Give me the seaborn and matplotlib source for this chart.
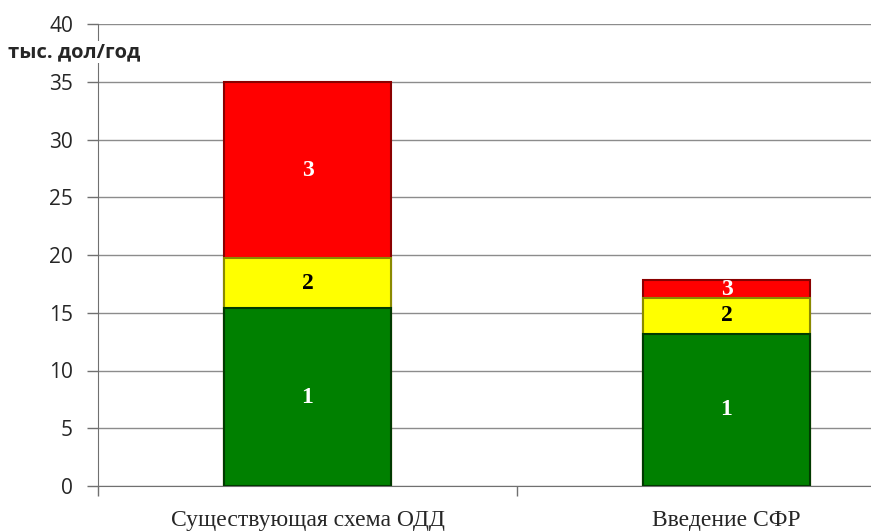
"""
Stacked cost comparison: existing scheme vs introduction of SFR
"""

import matplotlib
matplotlib.use("Agg")
import matplotlib.pyplot as plt
import seaborn as sns
import pandas as pd
import numpy as np

sns.set_style("white")
plt.rcParams['font.family'] = ['DejaVu Sans']

# Data (thousand $/year)
categories = ['Существующая схема ОДД', 'Введение СФР']
part1 = [15.4, 13.2]   # green
part2 = [4.3, 3.1]     # yellow
part3 = [15.3, 1.5]    # red
segment_labels = ['1', '2', '3']

y_ticks = [0, 5, 10, 15, 20, 25, 30, 35, 40]
y_label = 'тыс. дол/год'

COLORS = ['#008000', '#FFFF00', '#FF0000']
EDGES = ['#003a00', '#8a8a00', '#8a0000']
LABEL_COLORS = ['white', 'black', 'white']


def main():
    df = pd.DataFrame({'cat': categories, 'p1': part1, 'p2': part2, 'p3': part3})
    df['c1'] = df['p1']
    df['c2'] = df['p1'] + df['p2']
    df['c3'] = df['c2'] + df['p3']

    fig = plt.figure(figsize=(8.71, 5.32), dpi=100)
    # plot area continues past the right edge of the image in the reference
    ax = fig.add_axes([98 / 871, 46 / 532, 838 / 871, 462 / 532])

    # draw cumulative bars from the top segment down
    for col, color, edge in zip(['c3', 'c2', 'c1'], COLORS[::-1], EDGES[::-1]):
        sns.barplot(data=df, x='cat', y=col, color=color, width=0.4,
                    edgecolor=edge, linewidth=1.5, saturation=1, ax=ax, zorder=3)

    # segment labels
    bottoms = np.zeros(len(categories))
    for parts, lab, lc in zip([df['p1'], df['p2'], df['p3']], segment_labels, LABEL_COLORS):
        for i, v in enumerate(parts):
            ax.text(i, bottoms[i] + v / 2, lab, ha='center', va='center',
                    color=lc, fontsize=17, fontweight='bold',
                    family='Liberation Serif', zorder=5)
        bottoms = bottoms + parts.values

    ax.set_xlim(-0.5, 1.5)
    ax.set_ylim(0, 40)
    ax.set_yticks(y_ticks)
    ax.set_yticklabels([str(t) for t in y_ticks], fontsize=15, family='Open Sans')
    ax.set_xticks([-0.5, 0.5, 1.5], minor=True)
    ax.tick_params(axis='x', which='minor', bottom=True, length=7, width=1,
                   color='#707070', direction='out')
    ax.tick_params(axis='x', which='major', bottom=True, length=0, pad=17)
    for t in ax.get_xticklabels():
        t.set_family('Liberation Serif')
        t.set_fontsize(17)
    ax.tick_params(axis='y', left=True, length=8, width=1, color='#707070',
                   direction='out', pad=10)

    ax.yaxis.grid(True, color='#8c8c8c', linewidth=1)
    ax.set_axisbelow(True)
    ax.set_xlabel('')
    ax.set_ylabel('')

    for side in ['top', 'right']:
        ax.spines[side].set_visible(False)
    ax.spines['left'].set_color('#707070')
    ax.spines['bottom'].set_color('#707070')

    fig.text(8 / 871, 1 - 52 / 532, y_label, ha='left', va='center',
             fontsize=14.5, fontweight='bold', family='Open Sans', zorder=10,
             bbox=dict(facecolor='white', edgecolor='none', pad=1))

    fig.savefig('out.png', dpi=100, facecolor='white')


if __name__ == "__main__":
    main()
